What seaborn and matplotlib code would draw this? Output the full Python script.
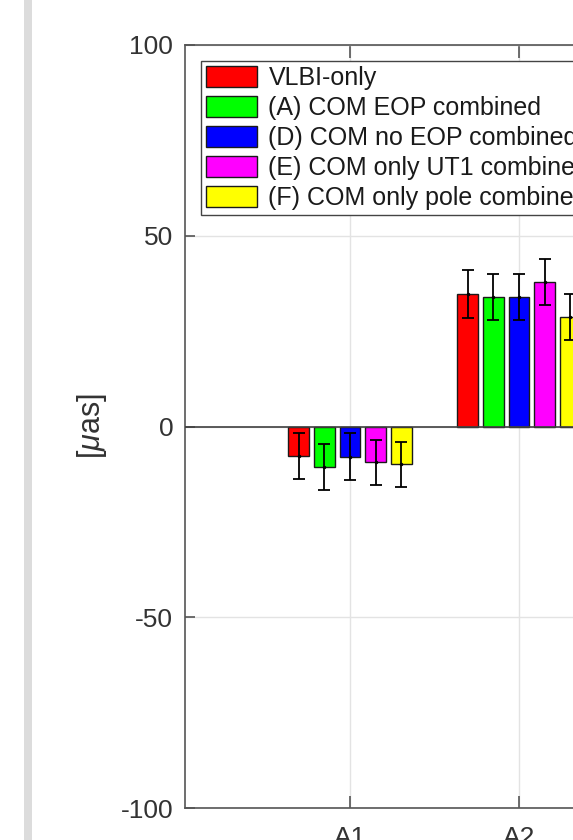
import matplotlib

matplotlib.use("Agg", force=True)

import matplotlib.pyplot as plt
import seaborn as sns
import pandas as pd
from matplotlib.container import BarContainer
from matplotlib.patches import Rectangle

# values
categories = ["A1", "A2"]
series = [
    "VLBI-only",
    "(A) COM EOP combined",
    "(D) COM no EOP combined",
    "(E) COM only UT1 combined",
    "(F) COM only pole combined",
]
vlbi_only = [-7.7, 34.7]
com_eop = [-10.6, 33.9]
com_no_eop = [-7.9, 33.9]
com_ut1 = [-9.4, 37.9]
com_pole = [-9.9, 28.7]

vlbi_err = [6.0, 6.2]
eop_err = [6.0, 6.0]
no_eop_err = [6.1, 6.0]
ut1_err = [5.9, 6.0]
pole_err = [5.9, 6.0]

colors = ["#ff0000", "#00ff00", "#0000ff", "#ff00ff", "#ffff00"]
values = [vlbi_only, com_eop, com_no_eop, com_ut1, com_pole]
errors = [vlbi_err, eop_err, no_eop_err, ut1_err, pole_err]

# long table for seaborn
rows = []
for name, vals in zip(series, values):
    for cat, v in zip(categories, vals):
        rows.append({"station": cat, "solution": name, "value": v})
df = pd.DataFrame(rows)

sns.set_style("white")
plt.rcParams["font.family"] = ["Liberation Sans", "DejaVu Sans"]
plt.rcParams["mathtext.fontset"] = "custom"
plt.rcParams["mathtext.it"] = "Liberation Sans:italic"
plt.rcParams["mathtext.rm"] = "Liberation Sans"

fig = plt.figure(figsize=(5.73, 8.4), dpi=100)
fig.patch.set_facecolor("white")
# grey strip at the left of the screenshot
fig.patches.append(Rectangle((24 / 573, 0), 8 / 573, 1, transform=fig.transFigure,
                             facecolor="#dcdcdc", edgecolor="none", zorder=0))

ax = fig.add_axes([185 / 573, 32 / 840, 0.7597, 763 / 840])

sns.barplot(data=df, x="station", y="value", hue="solution", hue_order=series,
            order=categories, palette=colors, width=0.76, gap=0.2,
            edgecolor="#1a1a1a", linewidth=1.0, saturation=1, errorbar=None,
            legend=False, ax=ax, zorder=3)

bars = [c for c in ax.containers if isinstance(c, BarContainer)]
for cont, vals, errs in zip(bars, values, errors):
    xs = [p.get_x() + p.get_width() / 2 for p in cont.patches]
    ax.errorbar(xs, vals, yerr=errs, fmt=".", color="black", markersize=3,
                elinewidth=1.3, capsize=4.4, capthick=1.3, zorder=4)

ax.axhline(0, color="#404040", lw=1.2, zorder=3)

ax.set_ylim(-100, 100)
ax.set_yticks([-100, -50, 0, 50, 100])
ax.set_yticklabels(["-100", "-50", "0", "50", "100"])
ax.set_xlim(-0.976, 1.6)
ax.set_xticks([0, 1])
ax.set_xticklabels(categories)
ax.set_xlabel("")
ax.set_ylabel(r"[$\mu$as]", fontsize=22, color="#333333", labelpad=8)

ax.grid(True, color="#e3e3e3", lw=1.0, zorder=0)
ax.set_axisbelow(True)
for side in ["left", "bottom", "top"]:
    ax.spines[side].set_visible(True)
    ax.spines[side].set_color("#555555")
    ax.spines[side].set_linewidth(1.2)
ax.spines["right"].set_visible(False)

ax.tick_params(axis="y", direction="in", length=7, width=1.2, color="#555555",
               labelsize=19, labelcolor="#333333", pad=8.5, left=True)
ax.tick_params(axis="x", direction="in", length=9, width=1.2, color="#555555",
               labelsize=19, labelcolor="#333333", pad=13, bottom=True, top=True)

leg = ax.legend(bars, series, loc="upper left",
                bbox_to_anchor=(200.7 / 573, 1 - 60.7 / 840),
                bbox_transform=fig.transFigure, borderaxespad=0,
                fontsize=18, frameon=True, fancybox=False, framealpha=1,
                handlelength=2.07, handleheight=0.92, handletextpad=0.44,
                labelspacing=0.24, borderpad=0.2)
leg.get_frame().set_edgecolor("#444444")
leg.get_frame().set_linewidth(1.0)
for t in leg.get_texts():
    t.set_color("#1a1a1a")

fig.savefig("out.png", dpi=100)
